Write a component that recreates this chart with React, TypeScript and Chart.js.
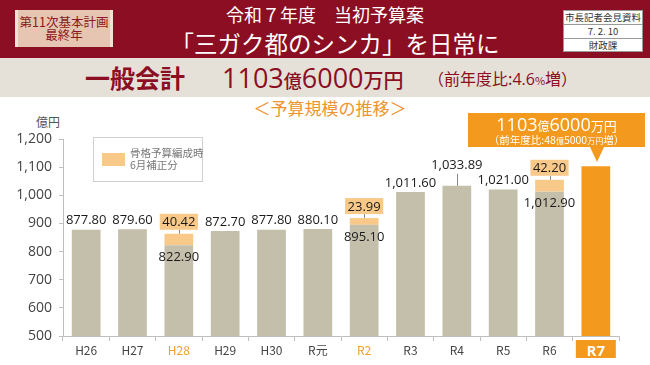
import React, { useEffect, useRef } from 'react';
import { Chart, registerables } from 'chart.js';

Chart.register(...registerables);

// ---- data ----
const categories = ['H26', 'H27', 'H28', 'H29', 'H30', 'R元', 'R2', 'R3', 'R4', 'R5', 'R6', 'R7'];
const baseValues = [877.8, 879.6, 822.9, 872.7, 877.8, 880.1, 895.1, 1011.6, 1033.89, 1021.0, 1012.9, 1103.6];
const supplementValues: (number | null)[] = [null, null, 40.42, null, null, null, 23.99, null, null, null, 42.2, null];
const yTickValues = [500, 600, 700, 800, 900, 1000, 1100, 1200];
const highlightCategory = 'R7';
const accentCategories = ['H28', 'R2'];
const leaderLabelCategories = ['R4'];
const legendLines = ['骨格予算編成時', '6月補正分'];

// ---- styles ----
const RED = '#8B0E22';
const GRAY_BAR = '#C4BFAB';
const ORANGE = '#F39A1E';
const SUP = '#F9C98A';
const AXIS = '#BFBFBF';
const NUM_FONT = '"Open Sans", "Noto Sans", sans-serif';
const JP_FONT = '"Noto Sans CJK JP", "Noto Sans", sans-serif';

const fmt = (v: number) =>
  v.toLocaleString('en-US', { minimumFractionDigits: 2, maximumFractionDigits: 2 });

const labelPlugin = {
  id: 'valueLabels',
  beforeDraw(chart: any) {
    const ctx = chart.ctx;
    const xs = chart.scales.x;
    const i = categories.indexOf(highlightCategory);
    const px = xs.getPixelForValue(i);
    ctx.save();
    ctx.fillStyle = ORANGE;
    ctx.fillRect(px - 20, chart.chartArea.bottom + 4, 40, 18);
    ctx.restore();
  },
  afterDatasetsDraw(chart: any) {
    const ctx = chart.ctx;
    const baseMeta = chart.getDatasetMeta(0);
    const supMeta = chart.getDatasetMeta(1);
    ctx.save();
    ctx.font = `13px ${NUM_FONT}`;
    ctx.textAlign = 'center';
    ctx.textBaseline = 'middle';
    categories.forEach((cat, i) => {
      if (cat === highlightCategory) return;
      const bar: any = baseMeta.data[i];
      const sup = supplementValues[i];
      if (sup != null) {
        const sb: any = supMeta.data[i];
        const txt = fmt(sup);
        const w = ctx.measureText(txt).width + 5;
        const cy = sb.y - 12;
        ctx.strokeStyle = '#8a8a8a';
        ctx.lineWidth = 1;
        ctx.beginPath();
        ctx.moveTo(Math.round(sb.x) + 0.5, cy + 8);
        ctx.lineTo(Math.round(sb.x) + 0.5, sb.y);
        ctx.stroke();
        ctx.fillStyle = SUP;
        ctx.fillRect(sb.x - w / 2, cy - 8, w, 16);
        ctx.fillStyle = '#1a1a1a';
        ctx.fillText(txt, sb.x, cy + 1);
        ctx.fillText(fmt(baseValues[i]), bar.x, bar.y + 12);
      } else if (leaderLabelCategories.includes(cat)) {
        const cy = bar.y - 20;
        ctx.strokeStyle = '#8a8a8a';
        ctx.lineWidth = 1;
        ctx.beginPath();
        ctx.moveTo(Math.round(bar.x) + 0.5, cy + 8);
        ctx.lineTo(Math.round(bar.x) + 0.5, bar.y);
        ctx.stroke();
        ctx.fillStyle = '#1a1a1a';
        ctx.fillText(fmt(baseValues[i]), bar.x, cy);
      } else {
        ctx.fillStyle = '#1a1a1a';
        ctx.fillText(fmt(baseValues[i]), bar.x, bar.y - 9);
      }
    });
    ctx.restore();
  },
};

function BudgetChart() {
  const ref = useRef<HTMLCanvasElement | null>(null);
  useEffect(() => {
    if (!ref.current) return;
    const chart = new Chart(ref.current, {
      type: 'bar',
      data: {
        labels: categories,
        datasets: [
          {
            label: '当初予算',
            data: baseValues,
            backgroundColor: categories.map((c) => (c === highlightCategory ? ORANGE : GRAY_BAR)),
            categoryPercentage: 0.62,
            barPercentage: 1,
            borderWidth: 0,
          },
          {
            label: legendLines.join(''),
            data: supplementValues as any,
            backgroundColor: SUP,
            categoryPercentage: 0.62,
            barPercentage: 1,
            borderWidth: 0,
          },
        ],
      },
      options: {
        animation: false,
        responsive: false,
        layout: { padding: { top: 139, right: 31, left: 0, bottom: 0 } },
        plugins: { legend: { display: false }, tooltip: { enabled: false } },
        scales: {
          x: {
            stacked: true,
            afterFit: (s: any) => {
              s.height = 29;
            },
            grid: { drawOnChartArea: false, drawTicks: true, tickLength: 5, offset: true, color: AXIS },
            border: { color: AXIS },
            ticks: {
              padding: 2,
              color: (c: any) => {
                const cat = categories[c.index];
                if (cat === highlightCategory) return '#ffffff';
                if (accentCategories.includes(cat)) return '#F0A030';
                return '#444444';
              },
              font: (c: any) =>
                categories[c.index] === highlightCategory
                  ? { family: NUM_FONT, size: 15, weight: 'bold' }
                  : { family: JP_FONT, size: 12 },
            },
          },
          y: {
            stacked: true,
            min: 500,
            max: 1200,
            afterFit: (s: any) => {
              s.width = 63;
            },
            afterBuildTicks: (s: any) => {
              s.ticks = yTickValues.map((v) => ({ value: v }));
            },
            grid: { drawOnChartArea: false, drawTicks: true, tickLength: 4, color: AXIS },
            border: { color: AXIS },
            ticks: {
              padding: 7,
              color: '#444444',
              font: { family: NUM_FONT, size: 14 },
              callback: (v: any) => Number(v).toLocaleString('en-US'),
            },
          },
        },
      },
      plugins: [labelPlugin],
    } as any);
    return () => chart.destroy();
  }, []);
  return (
    <canvas
      ref={ref}
      width={650}
      height={365}
      style={{ position: 'absolute', left: 0, top: 0, width: 650, height: 365 }}
    />
  );
}

export default function App() {
  const abs = (o: React.CSSProperties): React.CSSProperties => ({ position: 'absolute', ...o });
  const num = (size: number, weight: number = 500): React.CSSProperties => ({
    fontFamily: NUM_FONT,
    fontSize: size,
    fontWeight: weight,
  });
  return (
    <div
      style={{
        position: 'fixed',
        left: 0,
        top: 0,
        width: 650,
        height: 365,
        overflow: 'hidden',
        background: '#ffffff',
        fontFamily: JP_FONT,
      }}
    >
      {/* red header */}
      <div style={abs({ left: 0, top: 0, width: 650, height: 58, background: RED })} />
      <div
        style={abs({
          left: 15,
          top: 10,
          width: 98,
          height: 37,
          background: '#E6C6B2',
          borderLeft: '3px solid #F2E2D6',
          borderRight: '3px solid #F2E2D6',
          boxSizing: 'border-box',
          color: '#8B1A1A',
          fontSize: 12.5,
          lineHeight: '13px',
          textAlign: 'center',
          paddingTop: 5,
        })}
      >
        第11次基本計画
        <br />
        最終年
      </div>
      <div
        style={abs({
          left: 0,
          width: 650,
          top: 2,
          textAlign: 'center',
          color: '#fff',
          fontSize: 18,
          lineHeight: '24px',
        })}
      >
        令和７年度　当初予算案
      </div>
      <div
        style={abs({
          left: 10,
          width: 650,
          top: 27,
          textAlign: 'center',
          color: '#fff',
          fontSize: 23.5,
          lineHeight: '32px',
        })}
      >
        「三ガク都のシンカ」を日常に
      </div>
      <div
        style={abs({
          left: 563,
          top: 10,
          width: 80,
          height: 42,
          background: '#fff',
          border: '1px solid #999',
          boxSizing: 'border-box',
          color: '#333',
          fontSize: 9.5,
          textAlign: 'center',
        })}
      >
        <div style={{ height: 13, lineHeight: '13px', borderBottom: '1px solid #999' }}>市長記者会見資料</div>
        <div style={{ height: 13, lineHeight: '13px', borderBottom: '1px solid #999' }}>7. 2. 10</div>
        <div style={{ height: 13, lineHeight: '13px' }}>財政課</div>
      </div>

      {/* beige band */}
      <div style={abs({ left: 0, top: 58, width: 650, height: 39, background: '#E5E1D9' })} />
      <div
        style={abs({
          left: 85,
          top: 58,
          height: 39,
          lineHeight: '39px',
          color: RED,
          fontSize: 25,
          fontWeight: 'bold',
          whiteSpace: 'nowrap',
        })}
      >
        一般会計
      </div>
      <div
        style={abs({
          left: 222,
          top: 58,
          height: 39,
          lineHeight: '39px',
          color: RED,
          whiteSpace: 'nowrap',
          fontWeight: 500,
        })}
      >
        <span style={num(27)}>1103</span>
        <span style={{ fontSize: 18 }}>億</span>
        <span style={num(27)}>6000</span>
        <span style={{ fontSize: 20 }}>万円</span>
      </div>
      <div
        style={abs({
          left: 428,
          top: 58,
          height: 39,
          lineHeight: '40px',
          color: RED,
          whiteSpace: 'nowrap',
          fontSize: 16,
        })}
      >
        （前年度比:<span style={num(16, 400)}>4.6</span>
        <span style={{ fontSize: 11 }}>%</span>増）
      </div>

      {/* subtitle */}
      <div
        style={abs({
          left: 0,
          width: 660,
          top: 97,
          textAlign: 'center',
          color: '#EE9430',
          fontSize: 17,
          lineHeight: '22px',
        })}
      >
        ＜予算規模の推移＞
      </div>
      <div style={abs({ left: 36, top: 114, color: '#555', fontSize: 12, lineHeight: '16px' })}>億円</div>

      <BudgetChart />

      {/* legend */}
      <div
        style={abs({
          left: 93,
          top: 137,
          width: 110,
          height: 45,
          border: '1px solid #D0D0D0',
          boxSizing: 'border-box',
          background: '#fff',
        })}
      >
        <div style={abs({ left: 8, top: 15, width: 23, height: 13, background: SUP })} />
        <div
          style={abs({
            left: 36,
            top: 9,
            color: '#777',
            fontSize: 10.5,
            lineHeight: '12px',
            whiteSpace: 'nowrap',
          })}
        >
          {legendLines[0]}
          <br />
          {legendLines[1]}
        </div>
      </div>

      {/* callout */}
      <div
        style={abs({
          left: 468,
          top: 113,
          width: 177,
          height: 34,
          background: ORANGE,
          color: '#fff',
          textAlign: 'center',
          whiteSpace: 'nowrap',
        })}
      >
        <div style={{ height: 21, lineHeight: '22px' }}>
          <span style={num(18)}>1103</span>
          <span style={{ fontSize: 12 }}>億</span>
          <span style={num(18)}>6000</span>
          <span style={{ fontSize: 13 }}>万円</span>
        </div>
        <div style={{ height: 12, lineHeight: '11px', fontSize: 10.5 }}>
          （前年度比:48<span style={{ fontSize: 8 }}>億</span>5000<span style={{ fontSize: 8 }}>万円</span>増）
        </div>
      </div>
      <div
        style={abs({
          left: 590,
          top: 147,
          width: 0,
          height: 0,
          borderLeft: '7px solid transparent',
          borderRight: '7px solid transparent',
          borderTop: `15px solid ${ORANGE}`,
        })}
      />
    </div>
  );
}
